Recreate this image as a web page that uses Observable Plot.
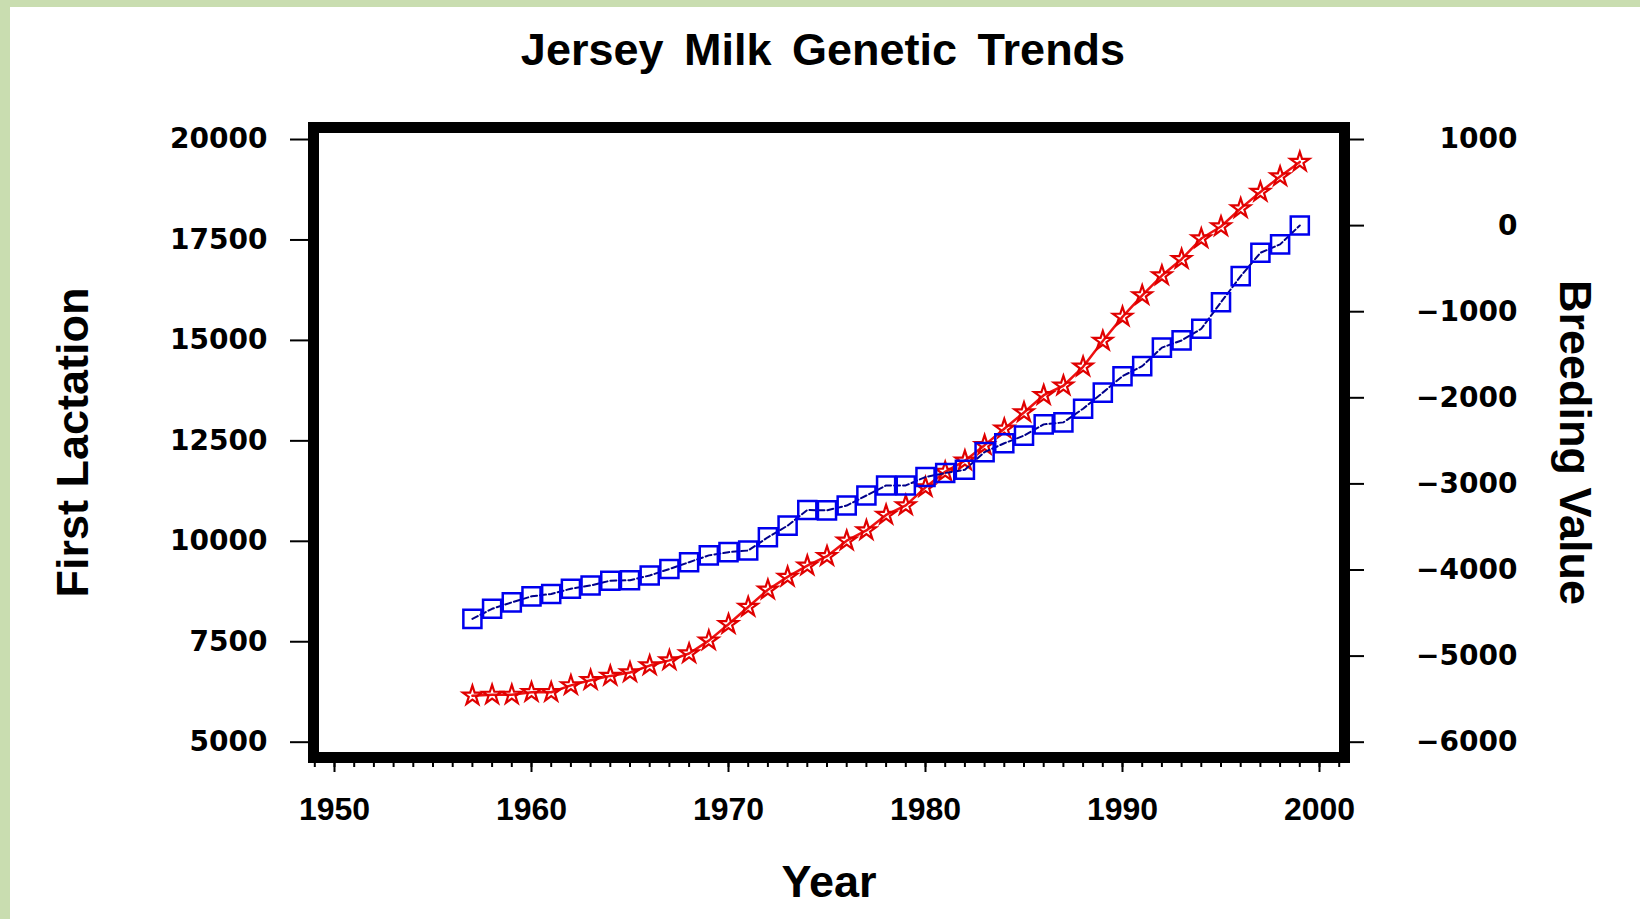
<!DOCTYPE html>
<html>
<head>
<meta charset="utf-8">
<script src="https://cdn.jsdelivr.net/npm/d3@7"></script>
<script src="https://cdn.jsdelivr.net/npm/@observablehq/plot@0.6"></script>
<style>
  html, body { margin: 0; padding: 0; }
  body { width: 1640px; height: 919px; background: #c9ddb0; position: relative; overflow: hidden; }
  #paper { position: absolute; left: 10px; top: 7px; right: 0; bottom: 0; background: #ffffff; }
  #title { position: absolute; left: 823px; top: 27px; transform: translateX(-50%);
           font: bold 45px "Liberation Sans", Arial, sans-serif; line-height: 45px;
           word-spacing: 8px; white-space: nowrap; color: #000; }
  #chart { position: absolute; left: 10px; top: 80px; }
</style>
</head>
<body>
<div id="paper"></div>
<div id="title">Jersey Milk Genetic Trends</div>
<div id="chart"></div>
<script>
// ---- data ----
const years = [1957, 1958, 1959, 1960, 1961, 1962, 1963, 1964, 1965, 1966,
               1967, 1968, 1969, 1970, 1971, 1972, 1973, 1974, 1975, 1976,
               1977, 1978, 1979, 1980, 1981, 1982, 1983, 1984, 1985, 1986,
               1987, 1988, 1989, 1990, 1991, 1992, 1993, 1994, 1995, 1996,
               1997, 1998, 1999];

// First lactation milk (left axis), blue squares
const firstLactation = [8070, 8320, 8480, 8630, 8690, 8820, 8900, 9020, 9030, 9150,
                        9310, 9480, 9650, 9730, 9770, 10100, 10390, 10780, 10770, 10890,
                        11140, 11390, 11390, 11600, 11700, 11780, 12220, 12440, 12630, 12910,
                        12960, 13300, 13700, 14110, 14360, 14820, 15000, 15290, 15950, 16600,
                        17180, 17390, 17860];

// Breeding value (right axis), red stars
const breedingValue = [-5460, -5450, -5450, -5420, -5420, -5340, -5280, -5230, -5190, -5110,
                       -5050, -4970, -4820, -4630, -4430, -4230, -4080, -3950, -3840, -3660,
                       -3540, -3360, -3250, -3040, -2860, -2730, -2550, -2360, -2170, -1970,
                       -1860, -1640, -1340, -1060, -810, -580, -390, -150, -10, 200,
                       390, 570, 740];

const xTicks = [1950, 1960, 1970, 1980, 1990, 2000];
const leftTicks = [5000, 7500, 10000, 12500, 15000, 17500, 20000];
const rightTicks = [-6000, -5000, -4000, -3000, -2000, -1000, 0, 1000];

// ---- right axis mapping: 1000 <-> 20000, -6000 <-> 5000 ----
const bv2L = v => 20000 + (v - 1000) * 15000 / 7000;
const L2bv = v => 1000 + (v - 20000) * 7000 / 15000;
const fmt = v => (v < 0 ? "\u2212" : "") + Math.abs(v);

const blue = years.map((year, i) => ({year, value: firstLactation[i]}));
const red = years.map((year, i) => ({year, value: bv2L(breedingValue[i])}));

const labelFont = "'Liberation Sans', Arial, sans-serif";
const tickFont = "'DejaVu Sans', Verdana, sans-serif";

const chart = Plot.plot({
  width: 1630,
  height: 839,
  marginLeft: 303,
  marginRight: 296,
  marginTop: 47,
  marginBottom: 162,
  style: {background: "transparent", fontFamily: labelFont, color: "#000"},
  x: {domain: [1948.934, 2001.269], label: null},
  y: {domain: [4619, 20299], label: null},
  marks: [
    // minor yearly ticks (no labels)
    Plot.axisX(d3.range(1949, 2002), {anchor: "bottom", tickSize: 10, fill: "none", strokeWidth: 2, label: null}),
    // major decade ticks
    Plot.axisX(xTicks, {anchor: "bottom", tickSize: 15, tickPadding: 25, tickFormat: d => String(d),
      fontSize: 32, fontWeight: "bold", fontFamily: labelFont, strokeWidth: 2, label: null}),
    Plot.axisY(leftTicks, {anchor: "left", tickSize: 23, tickPadding: 23, tickFormat: d => String(d),
      fontSize: 28, fontWeight: "bold", fontFamily: tickFont, strokeWidth: 2, label: null}),
    Plot.axisY(rightTicks.map(bv2L), {anchor: "right", tickSize: 19, tickPadding: 154, textAnchor: "end",
      tickFormat: d => fmt(Math.round(L2bv(d))),
      fontSize: 28, fontWeight: "bold", fontFamily: tickFont, strokeWidth: 2, label: null}),
    Plot.line(red, {x: "year", y: "value", stroke: "#ee1111", strokeWidth: 2.5}),
    Plot.dot(red, {x: "year", y: "value", symbol: "star", r: 6, stroke: "#e00000", fill: "none", strokeWidth: 2.2}),
    Plot.line(blue, {x: "year", y: "value", stroke: "#00008b", strokeWidth: 2, strokeDasharray: "6,3"}),
    Plot.dot(blue, {x: "year", y: "value", symbol: "square", r: 10.2, stroke: "#0000ee", fill: "none", strokeWidth: 2.5}),
    Plot.frame({stroke: "#000", strokeWidth: 11}),
    Plot.text(["First Lactation"], {text: d => d, frameAnchor: "left", dx: -240, rotate: -90,
      textAnchor: "middle", lineAnchor: "middle",
      fontSize: 45, fontWeight: "bold", fontFamily: labelFont, fill: "#000"}),
    Plot.text(["Breeding Value"], {text: d => d, frameAnchor: "right", dx: 230, rotate: 90,
      textAnchor: "middle", lineAnchor: "middle",
      fontSize: 45, fontWeight: "bold", fontFamily: labelFont, fill: "#000"}),
    Plot.text(["Year"], {text: d => d, frameAnchor: "bottom", dy: 125,
      textAnchor: "middle", lineAnchor: "middle",
      fontSize: 45, fontWeight: "bold", fontFamily: labelFont, fill: "#000"})
  ]
});
document.getElementById("chart").appendChild(chart);
</script>
</body>
</html>
